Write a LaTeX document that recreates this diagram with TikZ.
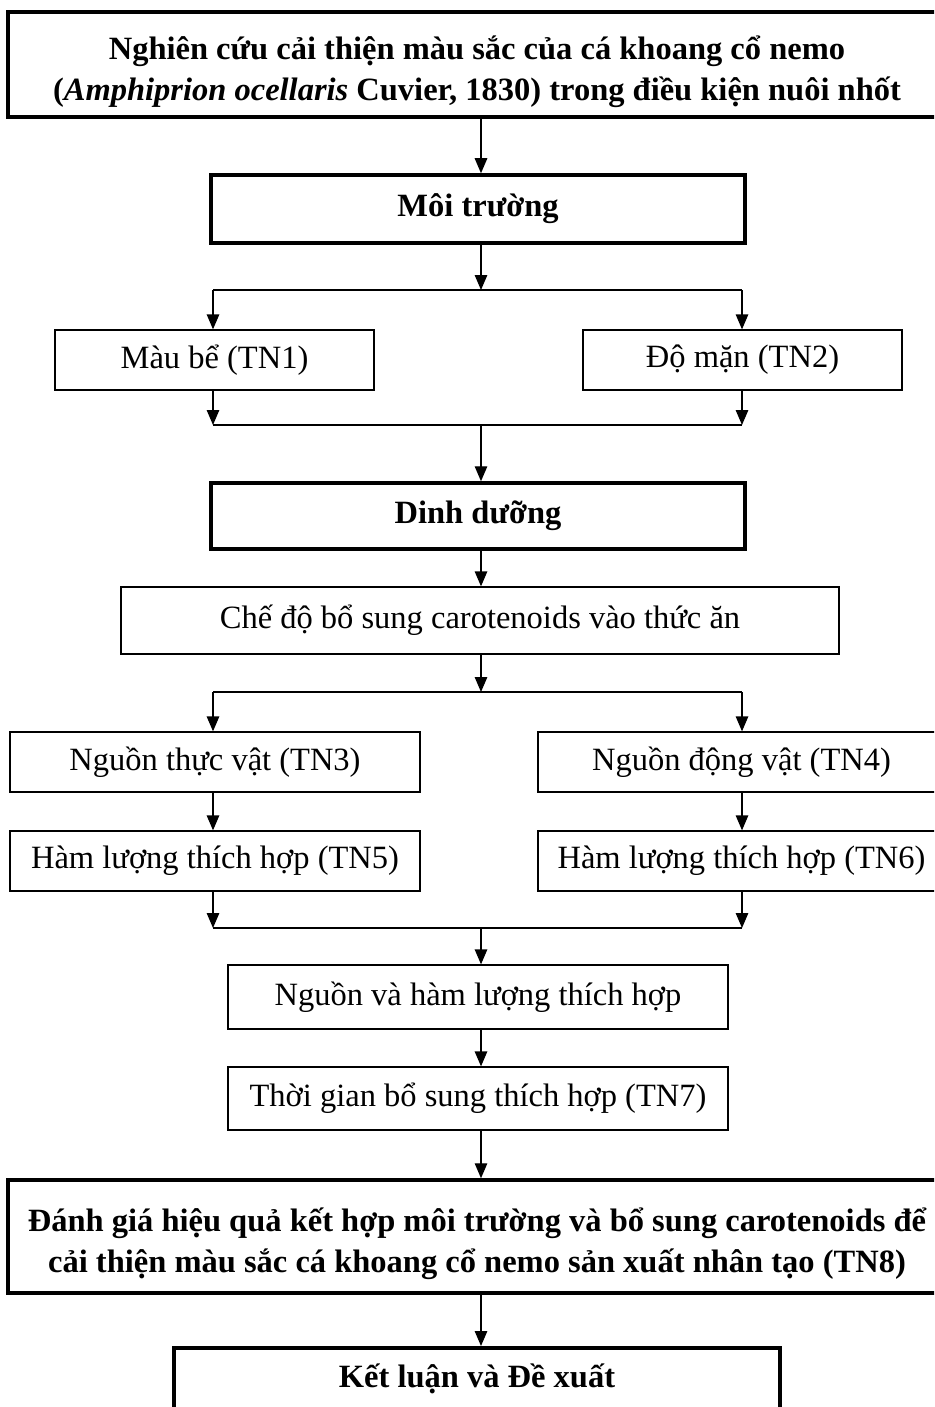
\documentclass[tikz,border=0pt]{standalone}
\usepackage{fontspec}
\setmainfont{Liberation Serif}
\usetikzlibrary{arrows.meta}

\begin{document}
\begin{tikzpicture}[x=1pt,y=-1pt,
  box/.style={draw, line width=1.3pt, rectangle, align=center, inner sep=0pt,
    font=\fontsize{32.5}{41}\selectfont},
  thickbox/.style={box, line width=3.5pt, font=\fontsize{32.5}{41}\selectfont\bfseries},
  arr/.style={line width=1.3pt, -{Triangle[length=15pt,width=12.5pt]}},
  ln/.style={line width=1.3pt}]

\useasboundingbox (0,0) rectangle (934,1407);
\clip (0,0) rectangle (934,1407);

% column guides for the trunk and the two branches
\coordinate (spine) at (481,0);
\coordinate (colL) at (213,0);
\coordinate (colR) at (742,0);

% boxes
\node[thickbox, minimum width=938, minimum height=105] (title) at (477,64.5)
  {\rule{0pt}{38pt}Nghiên cứu cải thiện màu sắc của cá khoang cổ nemo\\
   (\textit{Amphiprion ocellaris} Cuvier, 1830) trong điều kiện nuôi nhốt};
\node[thickbox, minimum width=534, minimum height=68] (moi) at (478,209) {Môi trường};
\node[box, minimum width=319, minimum height=60] (mau) at (214.5,360) {Màu bể (TN1)};
\node[box, minimum width=319, minimum height=60] (doman) at (742.5,360) {Độ mặn (TN2)};
\node[thickbox, minimum width=534, minimum height=66] (dinh) at (478,516) {Dinh dưỡng};
\node[box, minimum width=718, minimum height=67] (chedo) at (480,620.5) {Chế độ bổ sung carotenoids vào thức ăn};
\node[box, minimum width=410, minimum height=60] (ntv) at (215,762) {Nguồn thực vật (TN3)};
\node[box, minimum width=407, minimum height=60] (ndv) at (741.5,762) {Nguồn động vật (TN4)};
\node[box, minimum width=410, minimum height=60] (tn5) at (215,861) {Hàm lượng thích hợp (TN5)};
\node[box, minimum width=407, minimum height=60] (tn6) at (741.5,861) {Hàm lượng thích hợp (TN6)};
\node[box, minimum width=500, minimum height=64] (nvh) at (478,997) {Nguồn và hàm lượng thích hợp};
\node[box, minimum width=500, minimum height=63] (tg) at (478,1098.5) {Thời gian bổ sung thích hợp (TN7)};
\node[thickbox, minimum width=938, minimum height=113] (dg) at (477,1236.5)
  {\rule{0pt}{38pt}Đánh giá hiệu quả kết hợp môi trường và bổ sung carotenoids để\\
   cải thiện màu sắc cá khoang cổ nemo sản xuất nhân tạo (TN8)};
\node[thickbox, anchor=north, minimum width=606, text height=36pt, text depth=60pt,
  inner ysep=4pt] (kl) at (477,1346) {Kết luận và Đề xuất};

% junction points
\coordinate (s1) at (481,290);
\coordinate (m1) at (481,425);
\coordinate (s2) at (481,692);
\coordinate (m2) at (481,928);

% trunk
\draw[arr] (title.south -| spine) -- (moi.north -| spine);
\draw[arr] (moi.south -| spine) -- (s1);
\draw[ln] (s1 -| colL) -- (s1 -| colR);
\draw[arr] (s1 -| colL) -- (mau.north -| colL);
\draw[arr] (s1 -| colR) -- (doman.north -| colR);
\draw[arr] (mau.south -| colL) -- (m1 -| colL);
\draw[arr] (doman.south -| colR) -- (m1 -| colR);
\draw[ln] (m1 -| colL) -- (m1 -| colR);
\draw[arr] (m1) -- (dinh.north -| spine);
\draw[arr] (dinh.south -| spine) -- (chedo.north -| spine);
\draw[arr] (chedo.south -| spine) -- (s2);
\draw[ln] (s2 -| colL) -- (s2 -| colR);
\draw[arr] (s2 -| colL) -- (ntv.north -| colL);
\draw[arr] (s2 -| colR) -- (ndv.north -| colR);
\draw[arr] (ntv.south -| colL) -- (tn5.north -| colL);
\draw[arr] (ndv.south -| colR) -- (tn6.north -| colR);
\draw[arr] (tn5.south -| colL) -- (m2 -| colL);
\draw[arr] (tn6.south -| colR) -- (m2 -| colR);
\draw[ln] (m2 -| colL) -- (m2 -| colR);
\draw[arr] (m2) -- (nvh.north -| spine);
\draw[arr] (nvh.south -| spine) -- (tg.north -| spine);
\draw[arr] (tg.south -| spine) -- (dg.north -| spine);
\draw[arr] (dg.south -| spine) -- (kl.north -| spine);
\end{tikzpicture}
\end{document}
